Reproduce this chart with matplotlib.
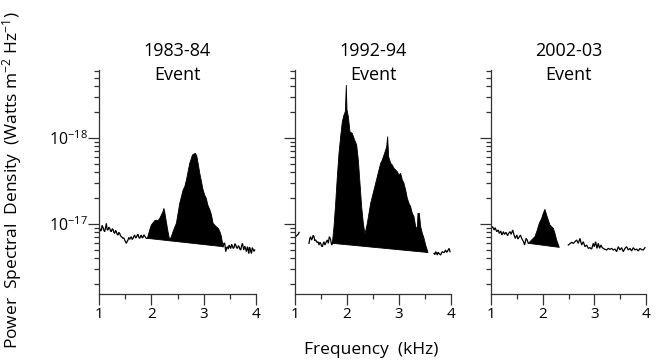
import matplotlib
matplotlib.use("Agg")
import matplotlib.pyplot as plt
from matplotlib.ticker import FixedLocator, FixedFormatter, NullFormatter

plt.rcParams['font.family'] = ['Open Sans', 'DejaVu Sans']
plt.rcParams['mathtext.fontset'] = 'custom'
plt.rcParams['mathtext.rm'] = 'Open Sans'
plt.rcParams['mathtext.it'] = 'Open Sans'
plt.rcParams['mathtext.default'] = 'regular'

# ---------------- data (PSD in units of 1e-17 W m^-2 Hz^-1, frequency in kHz) ----------------
titles = ["1983-84\nEvent", "1992-94\nEvent", "2002-03\nEvent"]
x_ticks = [1, 2, 3, 4]
x_minor = [1.5, 2.5, 3.5]
y_major = [1, 10]
y_labels = ["$10^{-17}$", "$10^{-18}$"]

# Panel 1 (1983-84)
p1_left_f = [1.000, 1.013, 1.030, 1.045, 1.060, 1.076, 1.092, 1.108, 1.124, 1.140, 1.156, 1.172,
             1.188, 1.204, 1.220, 1.236, 1.252, 1.268, 1.284, 1.300, 1.316, 1.331, 1.347, 1.363,
             1.379, 1.395, 1.411, 1.427, 1.443, 1.459, 1.475, 1.491, 1.507, 1.523, 1.539, 1.554,
             1.570, 1.586, 1.602, 1.618, 1.634, 1.650, 1.666, 1.682, 1.698, 1.714, 1.730, 1.746,
             1.762, 1.778, 1.794, 1.809, 1.825, 1.841, 1.857, 1.873, 1.889, 1.905, 1.924]
p1_left_v = [0.870, 0.890, 0.830, 0.852, 0.960, 0.915, 0.850, 0.815, 0.900, 1.018, 0.860, 0.852,
             0.920, 0.890, 0.830, 0.815, 0.880, 0.867, 0.800, 0.779, 0.840, 0.815, 0.760, 0.745,
             0.800, 0.779, 0.730, 0.712, 0.700, 0.681, 0.690, 0.652, 0.620, 0.596, 0.630, 0.652,
             0.700, 0.663, 0.690, 0.712, 0.660, 0.681, 0.720, 0.745, 0.690, 0.700, 0.740, 0.758,
             0.700, 0.681, 0.720, 0.745, 0.690, 0.700, 0.750, 0.725, 0.700, 0.681, 0.681]
p1_peak_f = [1.924, 1.969, 2.000, 2.032, 2.064, 2.096, 2.128, 2.160, 2.192, 2.224, 2.240, 2.255,
             2.287, 2.319, 2.350, 2.383, 2.415, 2.447, 2.479, 2.511, 2.543, 2.575, 2.607, 2.639,
             2.671, 2.702, 2.734, 2.766, 2.785, 2.811, 2.843, 2.868, 2.894, 2.926, 2.958, 2.990,
             3.020, 3.050, 3.080, 3.120, 3.150, 3.180, 3.210, 3.240, 3.280, 3.310, 3.340, 3.371]
p1_peak_v = [0.681, 0.852, 0.973, 1.03, 1.09, 1.11, 1.09, 1.16, 1.27, 1.40, 1.52, 1.39,
             1.06, 0.815, 0.652, 0.712, 0.815, 0.915, 1.02, 1.33, 1.74, 2.08, 2.48, 2.72,
             3.25, 4.06, 5.08, 5.80, 6.34, 6.50, 6.63, 6.20, 5.08, 3.88, 3.11, 2.48,
             2.17, 1.99, 1.66, 1.455, 1.27, 1.02, 0.973, 0.931, 0.890, 0.815, 0.712, 0.545]
p1_right_f = [3.371, 3.387, 3.403, 3.422, 3.438, 3.454, 3.470, 3.486, 3.502, 3.518, 3.533,
              3.549, 3.565, 3.581, 3.597, 3.613, 3.629, 3.645, 3.661, 3.677, 3.693, 3.709,
              3.725, 3.741, 3.766, 3.785, 3.800, 3.817, 3.836, 3.850, 3.862, 3.875, 3.887,
              3.900, 3.913, 3.930, 3.945, 3.960, 3.976]
p1_right_v = [0.545, 0.600, 0.596, 0.477, 0.530, 0.545, 0.510, 0.570, 0.540, 0.521, 0.580,
              0.555, 0.520, 0.535, 0.590, 0.570, 0.530, 0.521, 0.560, 0.545, 0.510, 0.499,
              0.560, 0.596, 0.499, 0.555, 0.520, 0.477, 0.545, 0.500, 0.456, 0.540, 0.521,
              0.480, 0.456, 0.530, 0.508, 0.480, 0.499]

# Panel 2 (1992-94)
p2_start_f = [1.00, 1.03, 1.06, 1.08]
p2_start_v = [0.70, 0.73, 0.76, 0.80]
p2_left_f = [1.269, 1.285, 1.301, 1.317, 1.333, 1.349, 1.365, 1.381, 1.397, 1.413, 1.429, 1.446,
             1.462, 1.478, 1.494, 1.510, 1.526, 1.542, 1.558, 1.574, 1.590, 1.606, 1.622, 1.641,
             1.660, 1.673, 1.686, 1.705, 1.718]
p2_left_v = [0.596, 0.680, 0.712, 0.650, 0.681, 0.740, 0.712, 0.640, 0.652, 0.630, 0.607, 0.620,
             0.570, 0.610, 0.596, 0.560, 0.545, 0.590, 0.623, 0.570, 0.596, 0.630, 0.652, 0.596,
             0.712, 0.690, 0.652, 0.570, 0.596]
p2_peak_f = [1.718, 1.750, 1.782, 1.814, 1.846, 1.878, 1.910, 1.942, 1.968, 1.987,
             2.000, 2.026, 2.058, 2.103, 2.147, 2.186, 2.218, 2.250, 2.282, 2.314,
             2.346, 2.391, 2.423, 2.455, 2.519, 2.551, 2.583, 2.615, 2.648, 2.679,
             2.712, 2.744, 2.763, 2.782, 2.801, 2.840, 2.872, 2.904, 2.936, 2.968,
             3.000, 3.032, 3.064, 3.096, 3.128, 3.160, 3.192, 3.224, 3.256, 3.288,
             3.321, 3.353, 3.365, 3.391, 3.417, 3.449, 3.481, 3.513, 3.558]
p2_peak_v = [0.596, 0.931, 1.74, 3.55, 6.63, 10.4, 15.5, 18.5, 20.3, 41.3,
             21.2, 17.7, 11.8, 11.3, 9.48, 8.3, 5.55, 2.97, 1.59, 1.02,
             0.76, 1.02, 1.33, 1.74, 2.48, 2.97, 3.55, 4.25, 5.08, 5.55,
             6.35, 7.25, 7.93, 10.4, 6.07, 5.08, 4.85, 4.44, 4.25, 4.06,
             3.71, 3.88, 3.25, 2.97, 2.48, 1.99, 1.74, 1.59, 1.33, 1.22,
             0.931, 0.89, 1.33, 1.33, 0.931, 0.779, 0.681, 0.570, 0.466]
p2_right_f = [3.673, 3.689, 3.705, 3.721, 3.737, 3.753, 3.769, 3.785, 3.801, 3.817, 3.833,
              3.849, 3.865, 3.881, 3.897, 3.913, 3.929, 3.946, 3.962, 3.981]
p2_right_v = [0.456, 0.440, 0.477, 0.460, 0.436, 0.470, 0.456, 0.445, 0.436, 0.460, 0.477,
              0.470, 0.464, 0.480, 0.499, 0.470, 0.477, 0.500, 0.521, 0.477]

# Panel 3 (2002-03)
p3_left_f = [1.00, 1.03, 1.06, 1.08, 1.11, 1.14, 1.16, 1.19, 1.21, 1.24, 1.26, 1.29, 1.32, 1.34,
             1.37, 1.39, 1.42, 1.45, 1.47, 1.50, 1.52, 1.55, 1.57, 1.60, 1.63, 1.65, 1.68, 1.70,
             1.722]
p3_left_v = [0.890, 0.931, 0.852, 0.906, 0.815, 0.852, 0.779, 0.829, 0.745, 0.815, 0.758, 0.800,
             0.732, 0.779, 0.815, 0.758, 0.852, 0.732, 0.681, 0.745, 0.669, 0.712, 0.745, 0.669,
             0.623, 0.570, 0.681, 0.652, 0.596]
p3_peak_f = [1.722, 1.787, 1.851, 1.896, 1.935, 1.980, 2.012, 2.044, 2.077, 2.109, 2.141,
             2.206, 2.238, 2.270, 2.322]
p3_peak_v = [0.596, 0.652, 0.712, 0.852, 1.02, 1.16, 1.33, 1.48, 1.27, 1.11, 0.973,
             0.890, 0.779, 0.652, 0.535]
p3_right_f = [2.496, 2.561, 2.593, 2.625, 2.657, 2.690, 2.722, 2.754, 2.786, 2.819, 2.851,
              2.883, 2.915, 2.948, 2.980, 2.999, 3.025, 3.051, 3.077, 3.102, 3.128, 3.154,
              3.193, 3.238, 3.270, 3.302, 3.335, 3.367, 3.399, 3.431, 3.464, 3.496, 3.528,
              3.560, 3.593, 3.625, 3.657, 3.689, 3.722, 3.754, 3.786, 3.818, 3.851, 3.883,
              3.915, 3.947, 3.980]
p3_right_v = [0.570, 0.612, 0.596, 0.623, 0.652, 0.596, 0.681, 0.570, 0.623, 0.545, 0.570,
              0.521, 0.531, 0.512, 0.596, 0.545, 0.623, 0.521, 0.596, 0.521, 0.570, 0.531,
              0.512, 0.499, 0.521, 0.507, 0.521, 0.499, 0.512, 0.477, 0.545, 0.499, 0.531,
              0.477, 0.521, 0.545, 0.499, 0.521, 0.486, 0.531, 0.499, 0.512, 0.486, 0.521,
              0.503, 0.499, 0.531]

panels = [
    {"lines": [(p1_left_f, p1_left_v), (p1_right_f, p1_right_v)], "peak": (p1_peak_f, p1_peak_v)},
    {"lines": [(p2_start_f, p2_start_v), (p2_left_f, p2_left_v), (p2_right_f, p2_right_v)],
     "peak": (p2_peak_f, p2_peak_v)},
    {"lines": [(p3_left_f, p3_left_v), (p3_right_f, p3_right_v)], "peak": (p3_peak_f, p3_peak_v)},
]

# ---------------- figure ----------------
W, H = 661, 360
fig = plt.figure(figsize=(W / 100, H / 100), dpi=100)

lefts = [99, 295, 491]
widths = [157, 156, 155]
top_px, bot_px = 70, 293.5
axis_col = '#333333'

for i, (pan, title) in enumerate(zip(panels, titles)):
    ax = fig.add_axes([lefts[i] / W, 1 - bot_px / H, widths[i] / W, (bot_px - top_px) / H])
    for f, v in pan["lines"]:
        ax.plot(f, v, color='black', lw=0.9, solid_joinstyle='miter')
    pf, pv = pan["peak"]
    ax.fill(pf, pv, facecolor='black', edgecolor='black', lw=0.6)

    ax.set_yscale('log')
    ax.set_xlim(1, 4)
    ax.set_ylim(0.1556, 61.8)
    for s in ['top', 'right']:
        ax.spines[s].set_visible(False)
    for s in ['left', 'bottom']:
        ax.spines[s].set_color(axis_col)
        ax.spines[s].set_linewidth(0.9)

    ax.xaxis.set_major_locator(FixedLocator(x_ticks))
    ax.xaxis.set_minor_locator(FixedLocator(x_minor))
    ax.set_xticklabels([str(t) for t in x_ticks])
    ax.yaxis.set_major_locator(FixedLocator(y_major))
    minors = [m * d for d in (0.1, 1, 10) for m in range(2, 10)]
    ax.yaxis.set_minor_locator(FixedLocator(minors))
    ax.yaxis.set_minor_formatter(NullFormatter())
    if i == 0:
        ax.yaxis.set_major_formatter(FixedFormatter(y_labels))
    else:
        ax.yaxis.set_major_formatter(NullFormatter())

    ax.tick_params(axis='both', which='major', direction='out', length=8, width=0.9,
                   color=axis_col, labelsize=11, pad=1.5)
    ax.tick_params(axis='both', which='minor', direction='out', length=3.5, width=0.9,
                   color=axis_col)
    ax.tick_params(axis='y', which='major', labelsize=11.5, pad=0)

    ax.text(0.5, (bot_px - 63) / (bot_px - top_px), title, transform=ax.transAxes,
            ha='center', va='center', fontsize=13, linespacing=1.4)

fig.text(12 / W, 1 - 180 / H, "Power  Spectral  Density  (Watts m$^{-2}$ Hz$^{-1}$)",
         rotation=90, ha='center', va='center', fontsize=12.5)
fig.text(371 / W, 1 - 350 / H, "Frequency  (kHz)", ha='center', va='center', fontsize=12.5)

fig.savefig("out.png", dpi=100)
